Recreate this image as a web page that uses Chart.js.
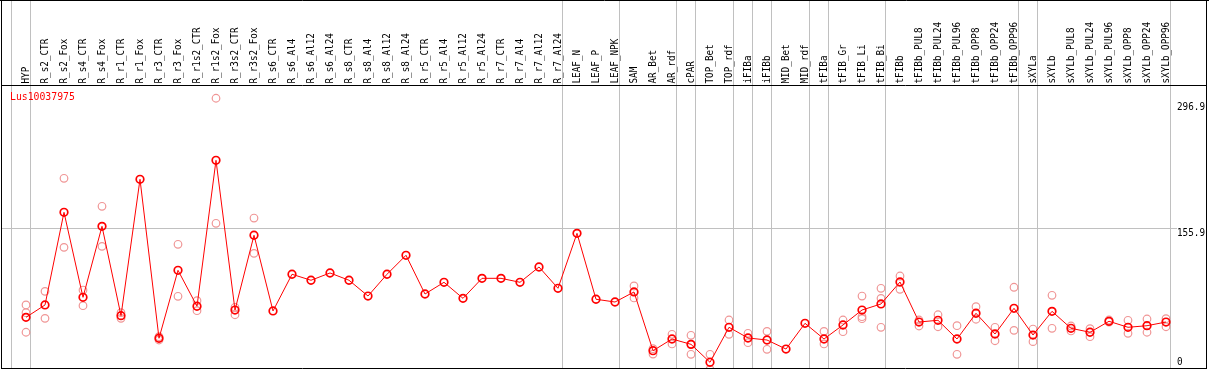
<!DOCTYPE html>
<html>
<head>
<meta charset="utf-8">
<title>Lus10037975</title>
<script src="https://cdn.jsdelivr.net/npm/chart.js@4.4.1/dist/chart.umd.min.js"></script>
<style>
  body { margin: 0; background: #fff; }
  .caixa { width: 1209px; height: 370px; position: relative; }
</style>
</head>
<body>
<div class="caixa"><canvas id="grafico"></canvas></div>
<script>
const nomeGene = 'Lus10037975';

const categorias = [
    'HYP', 'R_s2_CTR', 'R_s2_Fox', 'R_s4_CTR', 'R_s4_Fox', 'R_r1_CTR', 'R_r1_Fox', 'R_r3_CTR', 'R_r3_Fox',
    'R_r1s2_CTR', 'R_r1s2_Fox', 'R_r3s2_CTR', 'R_r3s2_Fox',
    'R_s6_CTR', 'R_s6_Al4', 'R_s6_Al12', 'R_s6_Al24', 'R_s8_CTR', 'R_s8_Al4', 'R_s8_Al12', 'R_s8_Al24',
    'R_r5_CTR', 'R_r5_Al4', 'R_r5_Al12', 'R_r5_Al24', 'R_r7_CTR', 'R_r7_Al4', 'R_r7_Al12', 'R_r7_Al24',
    'LEAF_N', 'LEAF_P', 'LEAF_NPK', 'SAM', 'AR_Bet', 'AR_rdf', 'cPAR', 'TOP_Bet', 'TOP_rdf',
    'iFIBa', 'iFIBb', 'MID_Bet', 'MID_rdf', 'tFIBa', 'tFIB_Gr', 'tFIB_Li', 'tFIB_Bi',
    'tFIBb', 'tFIBb_PUL8', 'tFIBb_PUL24', 'tFIBb_PUL96', 'tFIBb_OPP8', 'tFIBb_OPP24', 'tFIBb_OPP96',
    'sXYLa', 'sXYLb', 'sXYLb_PUL8', 'sXYLb_PUL24', 'sXYLb_PUL96', 'sXYLb_OPP8', 'sXYLb_OPP24', 'sXYLb_OPP96'
];

// media das replicas (linha vermelha)
const media = [
    59.3, 72.7, 173.2, 81.0, 158.0, 61.1, 209.0, 36.6, 110.3, 71.3, 229.6, 67.2, 148.3,
    66.2, 106.0, 99.5, 107.4, 99.5, 82.4, 106.0, 126.6,
    84.6, 97.3, 79.9, 101.6, 101.6, 97.3, 113.9, 90.8,
    150.4, 78.9, 75.9, 86.8, 23.1, 35.8, 30.0, 10.5, 48.5,
    36.9, 34.7, 24.9, 52.8, 35.8, 51.0, 67.2, 73.8,
    97.6, 54.2, 56.1, 35.8, 63.7, 41.2, 69.1,
    40.1, 65.8, 47.4, 43.1, 55.0, 48.5, 50.2, 54.2
];

// replicas (circulos claros)
const rep1 = [
    72.7, 87.5, 210.1, 88.9, 179.7, 64.3, null, 38.3, 138.5, 77.3, 296.9, 70.2, 167.0,
    null, null, null, null, null, null, null, null,
    null, null, null, null, null, null, null, null,
    null, null, null, 93.3, 25.3, 40.9, 39.8, 19.2, 56.4,
    42.0, 44.1, null, null, 44.1, 56.4, 82.4, 90.8,
    104.1, 56.4, 62.1, 50.2, 70.8, 48.5, 91.9,
    46.6, 83.2, 49.9, 47.0, 56.4, 56.1, 57.5, 57.8
];
const rep2 = [
    64.3, 58.2, 135.2, 71.9, 136.3, 58.2, null, 34.7, 82.1, 66.5, 161.3, 62.1, 128.7,
    null, null, null, null, null, null, null, null,
    null, null, null, null, null, null, null, null,
    null, null, null, 80.3, 19.5, 30.4, 19.2, 2.9, 40.9,
    31.8, 24.6, null, null, 30.4, 43.7, 60.0, 79.9,
    89.7, 49.9, 49.1, 19.2, 57.2, 33.9, 45.2,
    32.9, 47.4, 44.5, 38.3, 54.2, 42.0, 43.1, 49.1
];
const rep3 = [
    43.1, null, null, null, null, null, null, null, null, null, null, null, null,
    null, null, null, null, null, null, null, null,
    null, null, null, null, null, null, null, null,
    null, null, null, null, null, null, null, null, null,
    null, null, null, null, null, null, 57.8, 48.5,
    null, null, null, null, null, null, null,
    null, null, null, null, null, null, null, null
];

const rotulosY = [0, 155.9, 296.9];
const minY = 4.34;
const maxY = 310.2;

// indice da ultima categoria de cada grupo (linhas cinzas verticais)
const fimDeGrupo = [-1, 0, 28, 31, 34, 35, 37, 38, 39, 41, 42, 45, 52, 53, 60];

const fonteMono = '"DejaVu Sans Mono", "Liberation Mono", monospace';

function textoEstreito(ctx, texto, x, y, tamanho, fator, angulo) {
    ctx.save();
    ctx.translate(x, y);
    ctx.rotate(angulo);
    ctx.scale(fator, 1);
    ctx.font = tamanho + 'px ' + fonteMono;
    ctx.fillText(texto, 0, 0);
    ctx.restore();
}

const moldura = {
    id: 'moldura',
    beforeDatasetsDraw(chart) {
        const ctx = chart.ctx;
        const escalaX = chart.scales.x;
        const escalaY = chart.scales.y;
        ctx.save();
        ctx.strokeStyle = '#c0c0c0';
        ctx.lineWidth = 1;

        let yMeio = Math.round(escalaY.getPixelForValue(rotulosY[1])) + 0.5;
        ctx.beginPath();
        ctx.moveTo(1, yMeio);
        ctx.lineTo(1177, yMeio);
        ctx.stroke();

        fimDeGrupo.forEach(function (i) {
            let px = Math.round(escalaX.getPixelForValue(i) + 4) + 0.5;
            ctx.beginPath();
            ctx.moveTo(px, 0);
            ctx.lineTo(px, 368);
            ctx.stroke();
        });
        ctx.restore();
    },
    afterDatasetsDraw(chart) {
        const ctx = chart.ctx;
        const escalaX = chart.scales.x;
        const escalaY = chart.scales.y;
        const area = chart.chartArea;
        ctx.save();

        // bordas pretas
        ctx.strokeStyle = '#000';
        ctx.lineWidth = 1;
        ctx.beginPath();
        ctx.moveTo(0, 0.5); ctx.lineTo(1209, 0.5);
        ctx.moveTo(1.5, 0); ctx.lineTo(1.5, 369);
        ctx.moveTo(1206.5, 0); ctx.lineTo(1206.5, 369);
        ctx.moveTo(1, 85.5); ctx.lineTo(1207, 85.5);
        ctx.moveTo(1, 368.5); ctx.lineTo(1207, 368.5);
        ctx.stroke();

        // nomes das amostras, na vertical
        ctx.fillStyle = '#000';
        ctx.textAlign = 'left';
        ctx.textBaseline = 'middle';
        categorias.forEach(function (nome, i) {
            textoEstreito(ctx, nome, escalaX.getPixelForValue(i), 83.5, 10.5, 0.886, -Math.PI / 2);
        });

        // valores do eixo da direita
        rotulosY.forEach(function (v) {
            let py = escalaY.getPixelForValue(v) + 5;
            py = Math.min(Math.max(py, area.top + 21.5), area.bottom - 5.5);
            textoEstreito(ctx, String(v), 1177, py, 10.5, 0.886, 0);
        });

        // nome do gene
        ctx.fillStyle = '#ff0000';
        textoEstreito(ctx, nomeGene, 10, 97.5, 11, 0.89, 0);
        ctx.restore();
    }
};

function replica(valores) {
    return {
        data: valores,
        showLine: false,
        borderColor: 'rgb(240, 150, 150)',
        pointBorderColor: 'rgb(240, 150, 150)',
        pointBackgroundColor: 'rgba(0,0,0,0)',
        pointRadius: 3.8,
        pointBorderWidth: 1.2
    };
}

const ctx = document.getElementById('grafico').getContext('2d');

new Chart(ctx, {
    type: 'line',
    data: {
        labels: categorias,
        datasets: [
            {
                label: nomeGene,
                data: media,
                borderColor: '#ff0000',
                borderWidth: 1,
                tension: 0,
                pointBorderColor: '#ff0000',
                pointBackgroundColor: 'rgba(0,0,0,0)',
                pointRadius: 3.8,
                pointBorderWidth: 1.7
            },
            replica(rep1),
            replica(rep2),
            replica(rep3)
        ]
    },
    options: {
        responsive: true,
        maintainAspectRatio: false,
        animation: false,
        devicePixelRatio: 1,
        layout: {
            autoPadding: false,
            padding: { left: 26, right: 43, top: 86, bottom: 2 }
        },
        plugins: {
            legend: { display: false },
            tooltip: { enabled: false }
        },
        scales: {
            x: {
                type: 'category',
                offset: false,
                display: false
            },
            y: {
                min: minY,
                max: maxY,
                display: false
            }
        }
    },
    plugins: [moldura]
});
</script>
</body>
</html>
